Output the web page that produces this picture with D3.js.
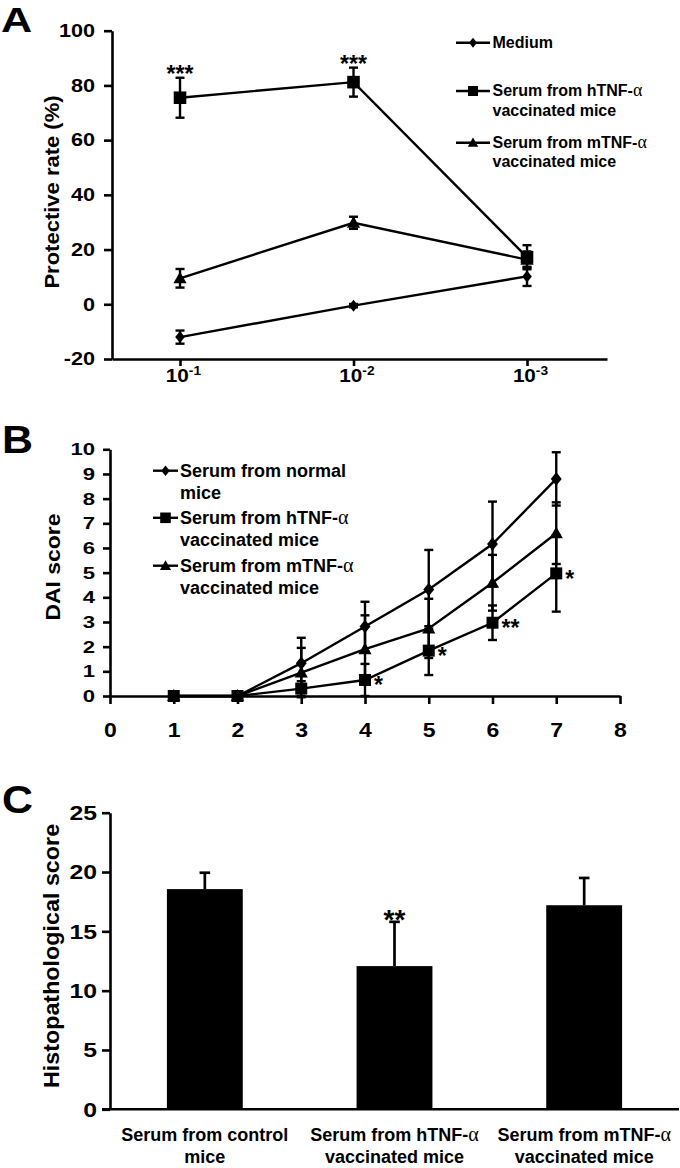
<!DOCTYPE html>
<html><head><meta charset="utf-8">
<script src="https://cdn.jsdelivr.net/npm/d3@7"></script>
<style>
body{margin:0;background:#fff}
svg{display:block}
text{font-family:"Liberation Sans",Arial,sans-serif;font-weight:bold;fill:#000}
</style></head><body>
<svg id="c" width="680" height="1168"></svg>
<script>
// ---------- data ----------
// Panel A
const dilutionBase = ["10","10","10"];
const dilutionExp = ["-1","-2","-3"];
const ticksA = [-20,0,20,40,60,80,100];
const namesA = ["Medium","Serum from hTNF-α|vaccinated mice","Serum from mTNF-α|vaccinated mice"];
const mediumA = [-12,-0.5,10.2];
const mediumAErr = [2.4,0.6,3.5];
const hTNFA = [75.5,81.2,17.2];
const hTNFAErr = [7.3,5.3,4.4];
const mTNFA = [9.5,29.8,16.3];
const mTNFAErr = [3.4,2.2,3.0];
const sigA = ["***","***",""];
// Panel B
const days = [1,2,3,4,5,6,7];
const ticksBy = [0,1,2,3,4,5,6,7,8,9,10];
const ticksBx = [0,1,2,3,4,5,6,7,8];
const namesB = ["Serum from normal|mice","Serum from hTNF-α|vaccinated mice","Serum from mTNF-α|vaccinated mice"];
const normalB = [0,0,1.33,2.82,4.32,6.16,8.8];
const normalBErr = [0,0,1.03,1.0,1.6,1.72,1.08];
const hTNFB = [0,0,0.3,0.65,1.84,2.97,4.97];
const hTNFBErr = [0,0,0.3,0.65,0.99,0.7,1.55];
const mTNFB = [0,0,0.95,1.9,2.74,4.59,6.6];
const mTNFBErr = [0,0,1.0,1.37,1.2,1.13,1.25];
const sigB = ["","","","*","*","**","*"];
// Panel C
const groupsC = ["Serum from control|mice","Serum from hTNF-α|vaccinated mice","Serum from mTNF-α|vaccinated mice"];
const valuesC = [18.56,12.07,17.2];
const errC = [1.38,3.73,2.3];
const sigC = ["","**",""];
const ticksC = [0,5,10,15,20,25];

// ---------- helpers ----------
const svg = d3.select("#c");
const AXW = 2.6, LW = 2.4;
const plain = d => String(d);

function addRich(t, str){
  const lines = str.split("|");
  lines.forEach((ln,li)=>{
    const parts = ln.split("α");
    parts.forEach((p,pi)=>{
      const ts = t.append("tspan").text(p);
      if(pi===0 && li>0){ ts.attr("x",0).attr("dy", t.attr("data-lh")); }
      if(pi<parts.length-1){
        t.append("tspan").text("α").style("font-family","'Liberation Serif',serif").style("font-weight","normal").style("font-size","1.12em");
      }
    });
  });
}
function T(g,x,y,str,o){
  o = Object.assign({fs:16,sx:1,anchor:"start",rot:0,lh:20},o||{});
  const t = g.append("text")
    .attr("transform",`translate(${x},${y}) rotate(${o.rot}) scale(${o.sx},1)`)
    .attr("text-anchor",o.anchor).attr("data-lh",o.lh)
    .style("font-size",o.fs+"px");
  if(o.dy) t.attr("dy",o.dy);
  addRich(t,str);
  return t;
}
function styleAxis(g,fs,sx){
  g.select(".domain").attr("stroke","#000").attr("stroke-width",AXW);
  g.selectAll(".tick line").attr("stroke","#000").attr("stroke-width",AXW);
  g.selectAll(".tick text").style("font-size",fs+"px").style("font-family","'Liberation Sans',Arial,sans-serif").style("font-weight","bold").attr("fill","#000")
    .each(function(){ const t=d3.select(this); const x=+t.attr("x")||0; t.attr("x",x/sx).attr("transform",`scale(${sx},1)`); });
}
function markerPath(type,s){
  if(type==="diamond"){ const w=s*0.8,h=s; return `M0,${-h}L${w},0L0,${h}L${-w},0Z`; }
  if(type==="square"){ return `M${-s},${-s}H${s}V${s}H${-s}Z`; }
  const w=s*1.05; return `M0,${-s*1.05}L${w},${s*0.8}L${-w},${s*0.8}Z`;
}
function series(g,xs,ys,vals,errs,type,ms,cap){
  g.append("path").datum(vals)
    .attr("d",d3.line().x((d,i)=>xs(i)).y(d=>ys(d)))
    .attr("fill","none").attr("stroke","#000").attr("stroke-width",LW);
  const eb = g.append("g").attr("stroke","#000").attr("stroke-width",LW);
  vals.forEach((v,i)=>{
    const e=errs[i]; if(!e) return;
    const x=xs(i), y1=ys(v-e), y2=ys(v+e);
    eb.append("line").attr("x1",x).attr("x2",x).attr("y1",y1).attr("y2",y2);
    eb.append("line").attr("x1",x-cap).attr("x2",x+cap).attr("y1",y1).attr("y2",y1);
    eb.append("line").attr("x1",x-cap).attr("x2",x+cap).attr("y1",y2).attr("y2",y2);
  });
  vals.forEach((v,i)=>{
    g.append("path").attr("d",markerPath(type,ms)).attr("transform",`translate(${xs(i)},${ys(v)})`).attr("fill","#000");
  });
}
function legendRow(g,x1,x2,y,type,ms,label,fs,tx,b1,lh){
  g.append("line").attr("x1",x1).attr("x2",x2).attr("y1",y).attr("y2",y).attr("stroke","#000").attr("stroke-width",LW);
  g.append("path").attr("d",markerPath(type,ms)).attr("transform",`translate(${(x1+x2)/2},${y})`).attr("fill","#000");
  T(g,tx,y+b1,label,{fs:fs,lh:lh});
}

// ---------- Panel A ----------
const gA = svg.append("g");
const xA = d3.scaleLinear().domain([-0.392,2.461]).range([112,607]);
const yA = d3.scaleLinear().domain([-20,100]).range([359,30.7]);
T(gA,1,32,"A",{fs:36,sx:1.2});
const gAy = gA.append("g").attr("transform",`translate(${xA.range()[0]},0)`)
  .call(d3.axisLeft(yA).tickValues(ticksA).tickFormat(plain).tickSize(8).tickPadding(9).tickSizeOuter(0));
styleAxis(gAy,18,1.2);
const gAx = gA.append("g").attr("transform",`translate(0,${yA(-20)})`)
  .call(d3.axisBottom(xA).tickValues([0,1,2]).tickSize(7).tickSizeOuter(0).tickFormat(""));
styleAxis(gAx,17,1);
gAx.selectAll(".tick").each(function(d){
  const t = d3.select(this).append("text").attr("y",23.5).attr("text-anchor","middle")
    .attr("transform","scale(1.15,1)").attr("x",3/1.15).style("font-size","18px");
  t.append("tspan").text(dilutionBase[d]);
  t.append("tspan").text(dilutionExp[d]).style("font-size","12px").attr("dy",-7);
});
T(gA,52,192,"Protective rate (%)",{fs:20,sx:1.1,rot:-90,anchor:"middle",dy:"0.35em"});
series(gA,xA,yA,mediumA,mediumAErr,"diamond",6,4.5);
series(gA,xA,yA,mTNFA,mTNFAErr,"triangle",6.3,4.5);
series(gA,xA,yA,hTNFA,hTNFAErr,"square",6.3,4.5);
sigA.forEach((s,i)=>{
  if(!s) return;
  const top = yA(hTNFA[i]+hTNFAErr[i]);
  gA.append("text").attr("x",xA(i)).attr("y",top-5+0.42*23).attr("text-anchor","middle").style("font-size","23px").text(s);
});
const legA = gA.append("g");
const legAY = [42.7,91,142.7];
namesA.forEach((n,i)=>legendRow(legA,456,490,legAY[i],["diamond","square","triangle"][i],5,n,16,492.5,5.4,19.2));

// ---------- Panel B ----------
const gB = svg.append("g");
const xB = d3.scaleLinear().domain([0,8]).range([110,620]);
const yB = d3.scaleLinear().domain([0,10]).range([696,449.3]);
T(gB,2,453,"B",{fs:39,sx:1.1});
const gBy = gB.append("g").attr("transform",`translate(${xB(0)},0)`)
  .call(d3.axisLeft(yB).tickValues(ticksBy).tickFormat(plain).tickSize(7).tickPadding(8).tickSizeOuter(0));
styleAxis(gBy,17,1.3);
const gBx = gB.append("g").attr("transform",`translate(0,${yB(0)})`)
  .call(d3.axisBottom(xB).tickValues(ticksBx).tickFormat(plain).tickSize(8).tickSizeOuter(0));
gBx.selectAll(".tick text").attr("y",41).attr("dy",null);
styleAxis(gBx,20,1.15);
T(gB,53,567,"DAI score",{fs:20.5,sx:1.12,rot:-90,anchor:"middle",dy:"0.35em"});
const xBi = i=>xB(days[i]);
series(gB,xBi,yB,normalB,normalBErr,"diamond",6.8,4.5);
series(gB,xBi,yB,mTNFB,mTNFBErr,"triangle",6.3,4.5);
series(gB,xBi,yB,hTNFB,hTNFBErr,"square",6,4.5);
sigB.forEach((s,i)=>{
  if(!s) return;
  gB.append("text").attr("x",xBi(i)+9).attr("y",yB(hTNFB[i])+0.57*23).style("font-size","23px").text(s);
});
const legB = gB.append("g");
const legBY = [470.7,517.8,565.7];
namesB.forEach((n,i)=>legendRow(legB,153,178,legBY[i],["diamond","square","triangle"][i],5.3,n,18,180,6.5,21.5));

// ---------- Panel C ----------
const gC = svg.append("g");
const xC = d3.scaleBand().domain(groupsC).range([110,679]).paddingInner(0.6).paddingOuter(0.3);
const yC = d3.scaleLinear().domain([0,25]).range([1109.3,812.7]);
T(gC,2,813,"C",{fs:39,sx:1.1});
gC.selectAll("rect.bar").data(valuesC).join("rect").attr("class","bar")
  .attr("x",(d,i)=>xC(groupsC[i])).attr("width",xC.bandwidth())
  .attr("y",d=>yC(d)).attr("height",d=>yC(0)-yC(d)).attr("fill","#000");
const ebC = gC.append("g").attr("stroke","#000").attr("stroke-width",LW+0.3);
valuesC.forEach((v,i)=>{
  const cx = xC(groupsC[i])+xC.bandwidth()/2;
  ebC.append("line").attr("x1",cx).attr("x2",cx).attr("y1",yC(v)).attr("y2",yC(v+errC[i]));
  ebC.append("line").attr("x1",cx-5.3).attr("x2",cx+5.3).attr("y1",yC(v+errC[i])).attr("y2",yC(v+errC[i]));
  if(sigC[i]) gC.append("text").attr("x",cx).attr("y",yC(v+errC[i])-5+0.42*28).attr("text-anchor","middle").style("font-size","28px").text(sigC[i]);
});
const gCy = gC.append("g").attr("transform",`translate(${xC.range()[0]},0)`)
  .call(d3.axisLeft(yC).tickValues(ticksC).tickFormat(plain).tickSize(8).tickPadding(5).tickSizeOuter(0));
styleAxis(gCy,21,1.18);
gC.append("line").attr("x1",xC.range()[0]-8).attr("x2",xC.range()[1]).attr("y1",yC(0)).attr("y2",yC(0))
  .attr("stroke","#000").attr("stroke-width",AXW);
groupsC.forEach(gn=>{
  T(gC,xC(gn)+xC.bandwidth()/2,1141,gn,{fs:18,anchor:"middle",lh:21.5});
});
T(gC,51,956,"Histopathological score",{fs:22,sx:1.06,rot:-90,anchor:"middle",dy:"0.35em"});
</script>
</body></html>
